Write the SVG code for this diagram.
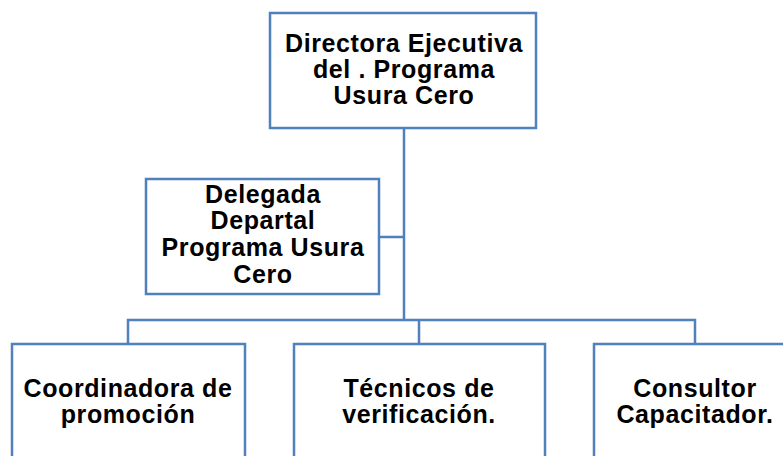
<svg xmlns="http://www.w3.org/2000/svg" width="783" height="456" viewBox="0 0 783 456">
<style>
.box{fill:#fff;stroke:#4F81BD;stroke-width:2.5}
.con{fill:none;stroke:#4F81BD;stroke-width:2.5}
text{font-family:"Liberation Sans",Arial,sans-serif;font-weight:bold;font-size:25px;letter-spacing:0.6px;fill:#000;text-anchor:middle}
</style>
<rect width="783" height="456" fill="#fff"/>
<g id="connectors">
<path class="con" d="M404 128V320M379 237H404M128 344V320H695V344M419 320V344"/>
</g>
<g id="n1">
<rect class="box" x="270" y="13" width="266" height="115"/>
<text x="404" y="52">Directora Ejecutiva</text>
<text x="404" y="78">del . Programa</text>
<text x="404" y="104">Usura Cero</text>
</g>
<g id="n2">
<rect class="box" x="146" y="179" width="233" height="115"/>
<text x="263" y="203">Delegada</text>
<text x="263" y="229">Departal</text>
<text x="263" y="256">Programa Usura</text>
<text x="263" y="283">Cero</text>
</g>
<g id="n3">
<rect class="box" x="12" y="344" width="233" height="130"/>
<text x="128" y="397">Coordinadora de</text>
<text x="128" y="423">promoción</text>
</g>
<g id="n4">
<rect class="box" x="294" y="344" width="251" height="130"/>
<text x="419" y="397">Técnicos de</text>
<text x="419" y="423">verificación.</text>
</g>
<g id="n5">
<rect class="box" x="594" y="344" width="210" height="130"/>
<text x="695" y="397">Consultor</text>
<text x="695" y="423">Capacitador.</text>
</g>
</svg>
